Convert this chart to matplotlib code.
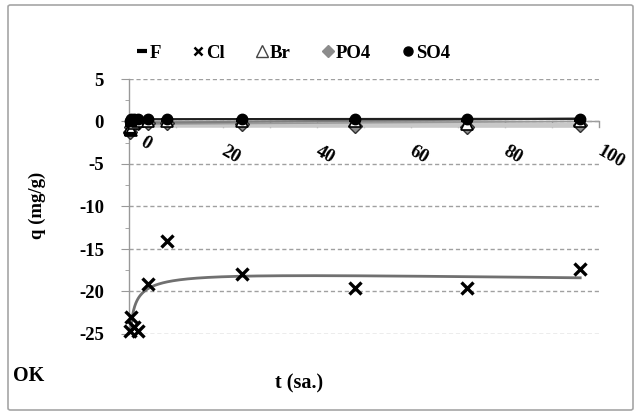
import numpy as np
import matplotlib
matplotlib.use("Agg")
import matplotlib.pyplot as plt
from matplotlib.patches import FancyBboxPatch
from matplotlib.lines import Line2D

# sampling times (hours) and adsorbed amounts q (mg/g) per anion
t = [0.25, 0.5, 1, 2, 4, 8, 24, 48, 72, 96]
q_F = [-1.5, -0.4, 0.2, 0.2, 0.2, 0.2, 0.2, 0.2, 0.2, 0.2]
q_Cl = [-24.6, -23.0, -24.2, -24.6, -19.1, -14.1, -17.9, -19.6, -19.6, -17.4]
q_Br = [-0.8, -1.0, -0.2, 0.0, 0.0, 0.0, 0.0, 0.0, -0.3, 0.0]
q_PO4 = [-1.2, -0.6, -0.3, -0.2, -0.2, -0.2, -0.3, -0.5, -0.6, -0.4]
q_SO4 = [0.1, 0.3, 0.3, 0.3, 0.3, 0.3, 0.3, 0.3, 0.3, 0.3]

x_ticks = [0, 20, 40, 60, 80, 100]
y_ticks = [5, 0, -5, -10, -15, -20, -25]

serif = ["Liberation Serif", "DejaVu Serif"]
plt.rcParams["font.family"] = serif
plt.rcParams["font.weight"] = "bold"

W, H = 641, 415
fig = plt.figure(figsize=(W / 100, H / 100), dpi=100)

# outer chart frame
frame = FancyBboxPatch((8 / W, 5 / H), (633 - 8) / W, (410 - 5) / H,
                       boxstyle="round,pad=0,rounding_size=0.004",
                       transform=fig.transFigure, fc="none", ec="#a6a6a6",
                       lw=1.2, zorder=-1)
fig.patches.append(frame)

ax = fig.add_axes([129 / W, 1 - 334 / H, (599 - 129) / W, (334 - 79) / H])
ax.set_xlim(0, 100)
ax.set_ylim(-25, 5)
ax.patch.set_alpha(0)

# axes: vertical at x=0, horizontal at q=0
for s in ("top", "right", "bottom"):
    ax.spines[s].set_visible(False)
ax.spines["left"].set_color("#999999")
ax.spines["left"].set_linewidth(1.0)
ax.axhline(0, color="#999999", lw=1.0, zorder=1)

ax.set_yticks(y_ticks)
ax.set_yticks(np.arange(-25, 5.1, 2.5), minor=True)
ax.set_yticklabels([str(v) for v in y_ticks], fontsize=13.5, fontweight="bold")
ax.tick_params(axis="y", which="major", direction="out", length=6,
               color="#999999", pad=12)
ax.tick_params(axis="y", which="minor", direction="out", length=3,
               color="#999999")
ax.yaxis.grid(True, which="major", ls=(0, (3, 2)), color="#a0a0a0", lw=1.0)

# x ticks hang below the q=0 line
ax.set_xticks([])
for v in np.arange(10, 101, 10):
    ax.plot([v, v], [0, -0.7], color="#999999", lw=1.0, zorder=1,
            clip_on=False)
for v in x_ticks:
    off = (12, -9) if v == 0 else (3, -15)
    ax.annotate(str(v), xy=(v, 0), xytext=off,
                textcoords="offset points", rotation=-30,
                rotation_mode="anchor", ha="left", va="top",
                fontsize=13.5, fontweight="bold", annotation_clip=False)

tt = np.array(t, dtype=float)
tf = np.linspace(tt.min(), tt.max(), 400)


def log_trend(y):
    L = np.log(tt)
    A = np.column_stack([np.ones_like(tt), L, L ** 2])
    c, *_ = np.linalg.lstsq(A, np.array(y, dtype=float), rcond=None)
    Lf = np.log(tf)
    return c[0] + c[1] * Lf + c[2] * Lf ** 2


def lin_trend(y):
    c = np.polyfit(tt, np.array(y, dtype=float), 1)
    return np.polyval(c, np.linspace(0, tt.max(), 400))


tl = np.linspace(0, tt.max(), 400)
ax.plot(tl, lin_trend(q_PO4), color="#c8c8c8", lw=3.5, zorder=2,
        solid_capstyle="butt")
ax.plot(tl, lin_trend(q_Br), color="#9a9a9a", lw=1.2, zorder=2)
ax.plot(tl, lin_trend(q_F), color="#808080", lw=1.5, zorder=2)
ax.plot(tl, lin_trend(q_SO4), color="#202020", lw=1.6, zorder=2)
ax.plot(tf, log_trend(q_Cl), color="#707070", lw=2.0, zorder=2)

kw = dict(ls="none", clip_on=False, zorder=4)
ax.plot(t, q_PO4, marker="D", ms=7, mfc="#8c8c8c", mec="#303030", mew=1, **kw)
ax.plot(t, q_Br, marker="^", ms=8, mfc="white", mec="black", mew=1.2, **kw)
ax.plot(t, q_F, marker="_", ms=8, mec="black", mew=3, **kw)
ax.plot(t, q_SO4, marker="o", ms=7.5, mfc="black", mec="black", **kw)
ax.plot(t, q_Cl, marker="x", ms=9, mec="black", mew=2.4, **kw)

handles = [
    Line2D([], [], ls="none", marker="_", ms=7, mec="black", mew=3),
    Line2D([], [], ls="none", marker="x", ms=6, mec="black", mew=1.8),
    Line2D([], [], ls="none", marker="^", ms=8, mfc="white", mec="#444444",
           mew=1.0),
    Line2D([], [], ls="none", marker="D", ms=6, mfc="#8c8c8c", mec="#8c8c8c"),
    Line2D([], [], ls="none", marker="o", ms=6.5, mfc="black", mec="black"),
]
labels = ["F", "Cl", "Br", "PO4", "SO4"]
fig.legend(handles, labels, loc="center", bbox_to_anchor=(294 / W, 1 - 53 / H),
           ncol=5, frameon=False, handlelength=0.45, handletextpad=0.2,
           columnspacing=1.75, prop={"family": serif, "weight": "bold",
                                     "size": 13.5})

fig.text(37 / W, 1 - 205 / H, "q (mg/g)", rotation=90, ha="center",
         va="center", fontsize=13.5, fontweight="bold")
fig.text(299 / W, 1 - 383 / H, "t (sa.)", ha="center", va="center",
         fontsize=14.5, fontweight="bold")
fig.text(13 / W, 1 - 376 / H, "OK", ha="left", va="center", fontsize=14.5,
         fontweight="bold")

fig.savefig("out.png", dpi=100)
